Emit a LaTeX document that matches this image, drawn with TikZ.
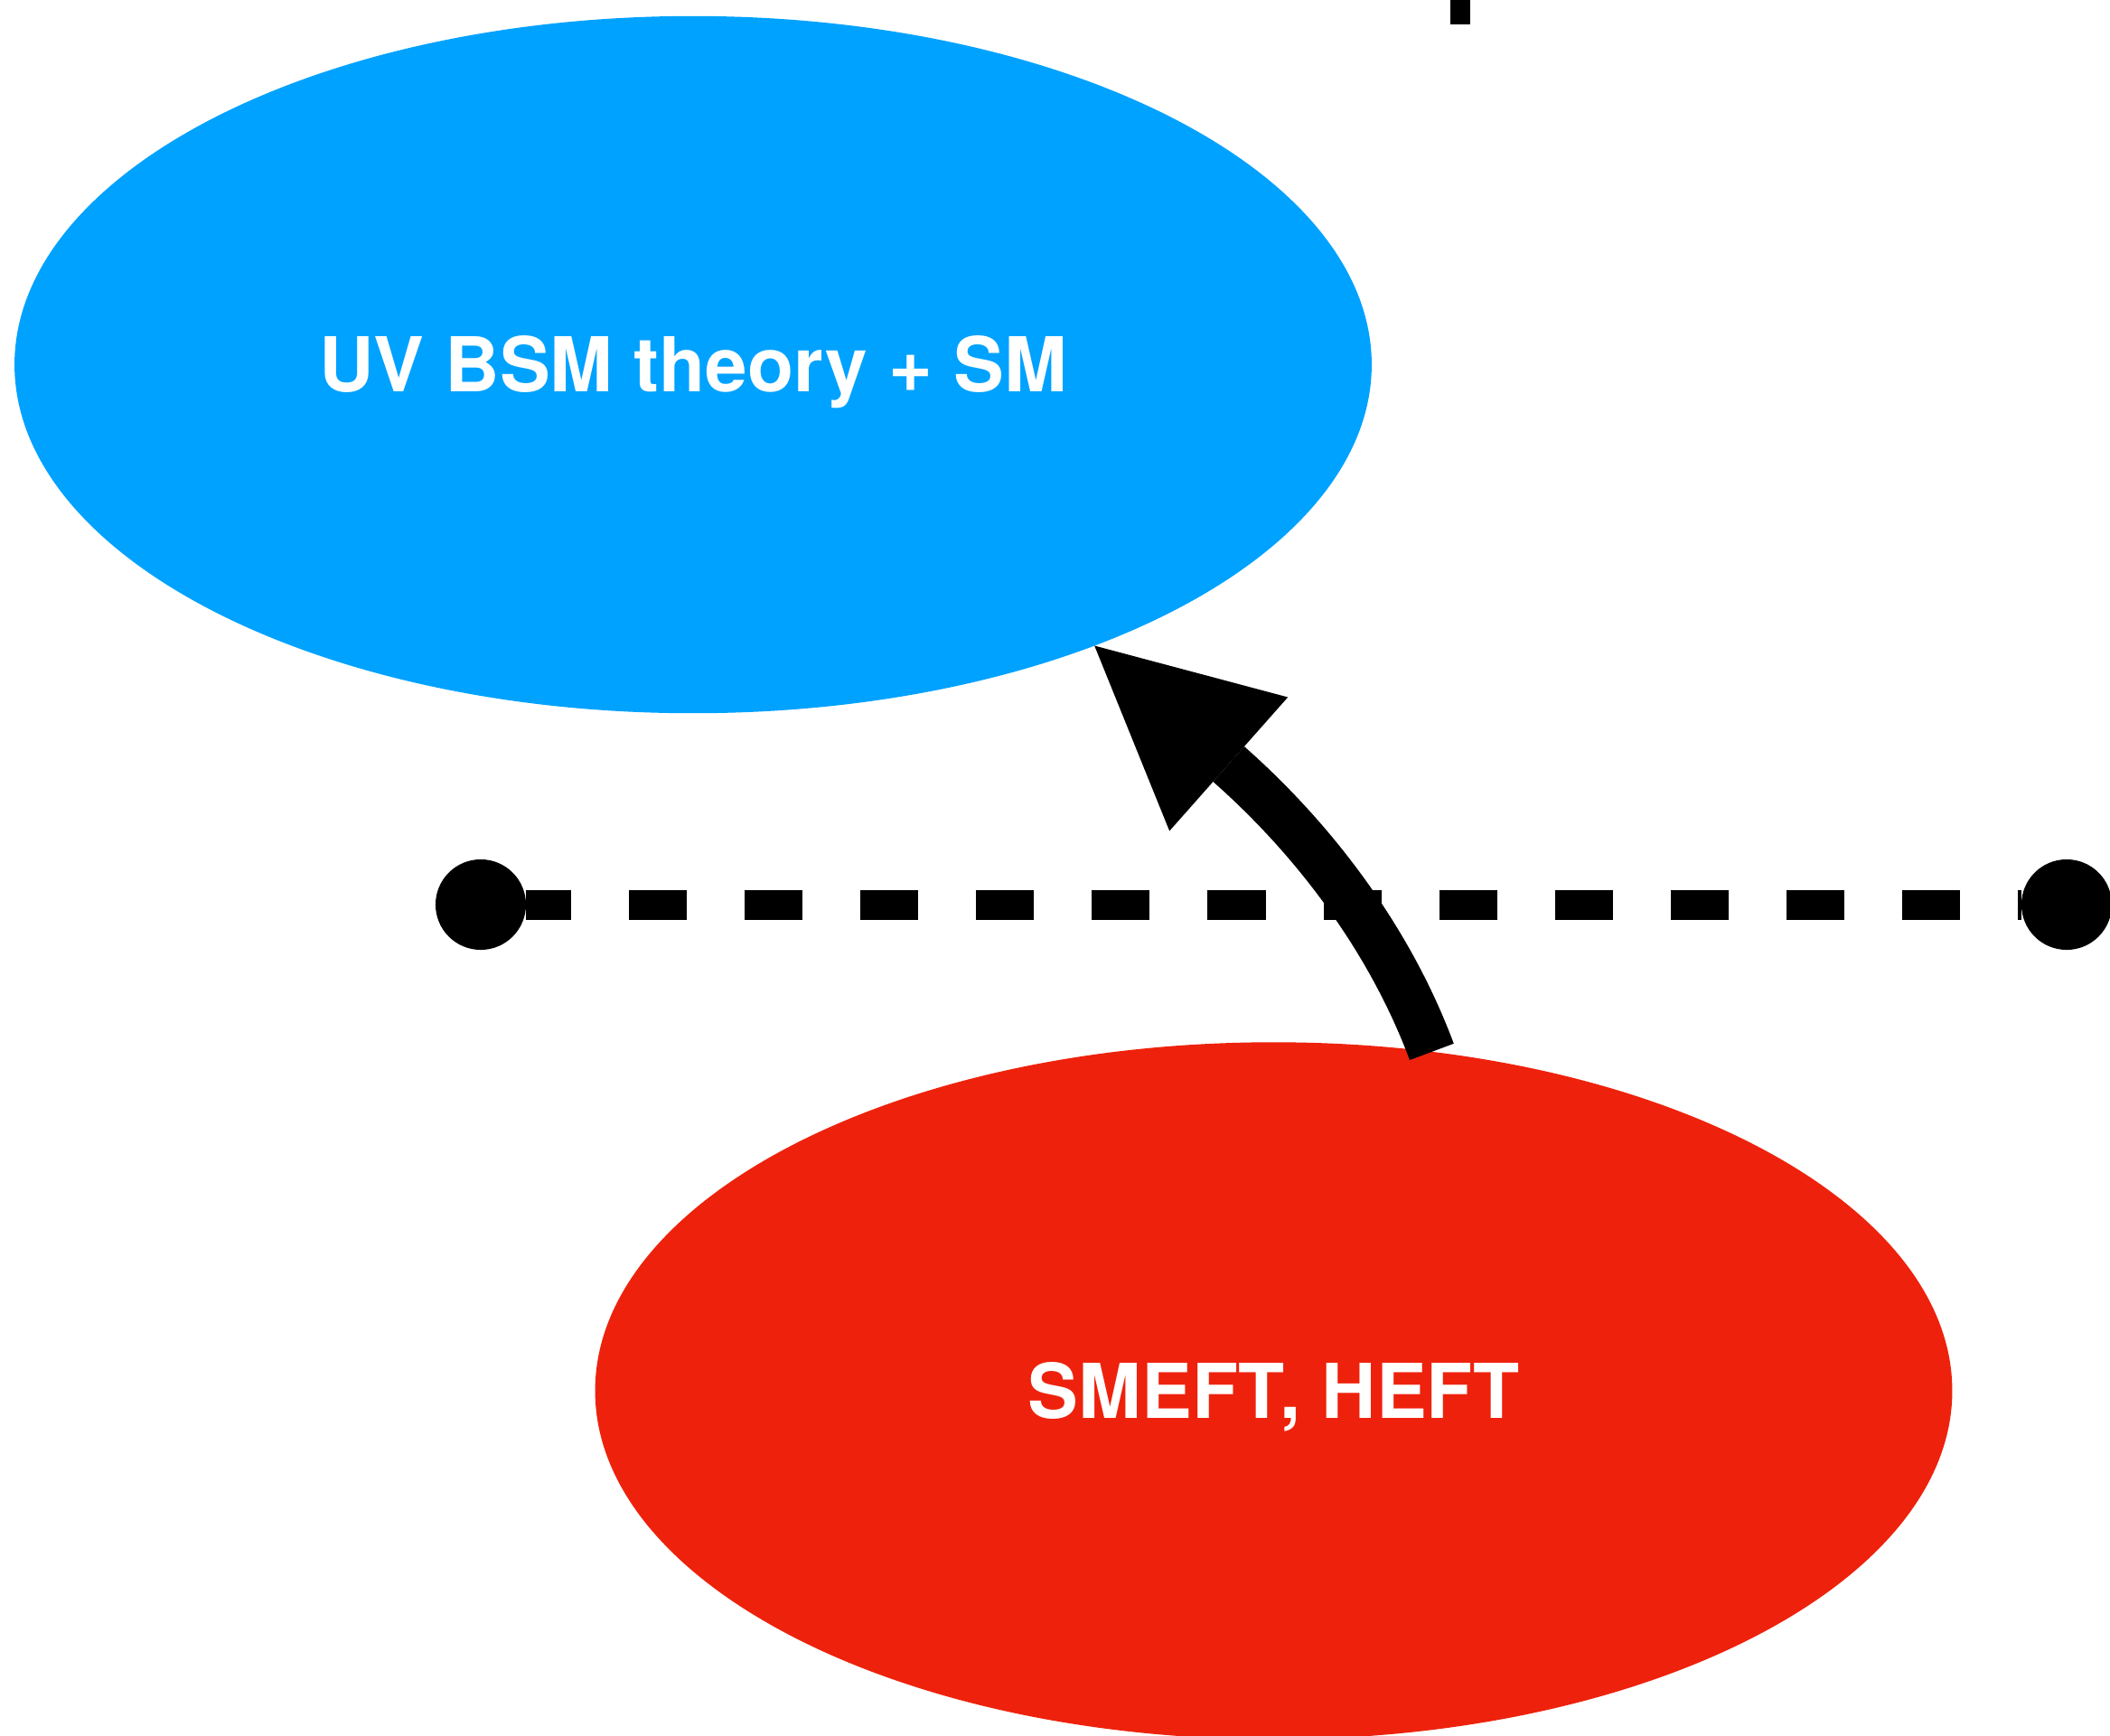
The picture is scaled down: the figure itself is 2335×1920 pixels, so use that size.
\documentclass[tikz,border=0pt]{standalone}
\usepackage{fontspec}
\setmainfont{TeX Gyre Heros}
\usetikzlibrary{shapes.geometric,calc}
\definecolor{uvblue}{HTML}{00A2FF}
\definecolor{effred}{HTML}{EE220C}
\tikzset{
  blob/.style={ellipse, minimum width=15.01cm, minimum height=7.71cm, inner sep=0pt, outer sep=0pt,
    text=white, font=\fontsize{23.8}{29}\selectfont\bfseries, text height=0.60cm, text depth=0pt},
  dotnode/.style={circle, fill=black, minimum size=1cm, inner sep=0pt, outer sep=0pt},
  dashline/.style={line width=0.33cm, dash pattern=on 0.64cm off 0.64cm, dash phase=0.14cm},
  shaft/.style={line width=0.52cm},
}
\begin{document}
\begin{tikzpicture}[x=0.01cm, y=-0.01cm]
\useasboundingbox (0,0) rectangle (2335,1920);
\node[blob, fill=uvblue] (uv) at (767,403.5) {UV BSM theory + SM};
\node[blob, fill=effred] (eft) at (1409.5,1539) {SMEFT, HEFT};
\fill (1605,0) rectangle (1627,27);
\node[dotnode] (l) at (532,1001) {};
\node[dotnode] (r) at (2287,1001) {};
\draw[dashline] (l) -- (r);
\coordinate (tip) at (uv.-35.26);
\coordinate (back) at ($(tip)+(148.5,131)$);
\draw[shaft] (eft.65.5) .. controls +(-45,-121) and +(97.5,86) .. (back);
\fill (tip) -- ($(back)+(65.5,-74)$) -- ($(back)+(-65.5,74)$) -- cycle;
\end{tikzpicture}
\end{document}
